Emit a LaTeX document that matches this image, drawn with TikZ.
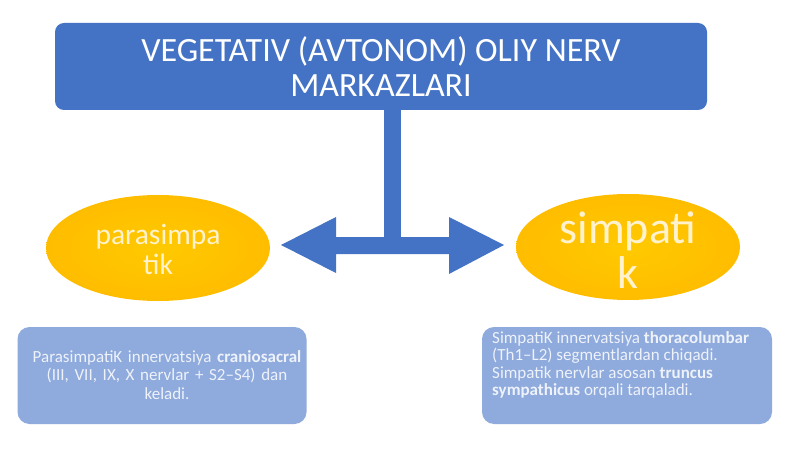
\documentclass[tikz,border=0pt]{standalone}
\usepackage{fontspec}
\setmainfont{Carlito}
\usetikzlibrary{shapes.geometric}
\definecolor{topblue}{HTML}{4472C4}
\definecolor{lightblue}{HTML}{8FAADC}
\definecolor{gold}{HTML}{FFC000}
\definecolor{softtxt}{HTML}{EEF2FA}
\definecolor{paleyel}{HTML}{FFF2CC}
\tikzset{
  topbox/.style={draw=none, fill=topblue, rounded corners=9pt, minimum width=652pt, minimum height=87pt, inner sep=0pt},
  infobox/.style={draw=none, fill=lightblue, rounded corners=12pt, minimum height=97pt, inner sep=0pt},
  oval/.style={ellipse, draw=none, inner color=gold!85!yellow, outer color=gold!95!orange, minimum width=224pt, minimum height=106pt, inner sep=0pt},
  arrowfill/.style={fill=topblue, draw=none}
}
\begin{document}
\begin{tikzpicture}[x=1pt,y=-1pt]
\useasboundingbox (0,0) rectangle (800,449);
\fill[white] (0,0) rectangle (800,449);
% top box
\node[topbox] (top) at (381,66.5) {};
\node[text=white, font=\fontsize{34}{35}\selectfont, align=center] (toptxt) at (381,67) {VEGETATIV (AVTONOM) OLIY NERV\\MARKAZLARI};
% stem
\fill[arrowfill] (384,109) rectangle (401,238);
% double arrow
\fill[arrowfill] (281,245) -- (336,217) -- (336,237) -- (449,237) -- (449,217) -- (504,245) -- (449,274) -- (449,254) -- (336,254) -- (336,273) -- cycle;
% ovals
\node[oval] (para) at (158,248) {};
\node[text=paleyel, font=\fontsize{29.5}{30}\selectfont, align=center] (paratxt) at (158,249) {parasimpa\\tik};
\node[oval] (simp) at (628,247) {};
\node[text=paleyel, font=\fontsize{46}{45}\selectfont, align=center] (simptxt) at (628,250) {simpati\\k};
% info boxes
\node[infobox, minimum width=289pt] (lbox) at (162,375.5) {};
\node[text=softtxt, font=\fontsize{17}{18.5}\selectfont, align=center, text width=285pt] (ltxt) at (167,375) {ParasimpatiK innervatsiya \textbf{craniosacral}\\(III, VII, IX, X nervlar + S2–S4) dan\\keladi.};
\node[infobox, minimum width=290pt] (rbox) at (627,375.5) {};
\node[text=softtxt, font=\fontsize{17}{17.5}\selectfont, align=left, anchor=north west, inner sep=0pt] (rtxt) at (492,331) {SimpatiK innervatsiya \textbf{thoracolumbar}\\(Th1–L2) segmentlardan chiqadi.\\Simpatik nervlar asosan \textbf{truncus}\\\textbf{sympathicus} orqali tarqaladi.};
\end{tikzpicture}
\end{document}
